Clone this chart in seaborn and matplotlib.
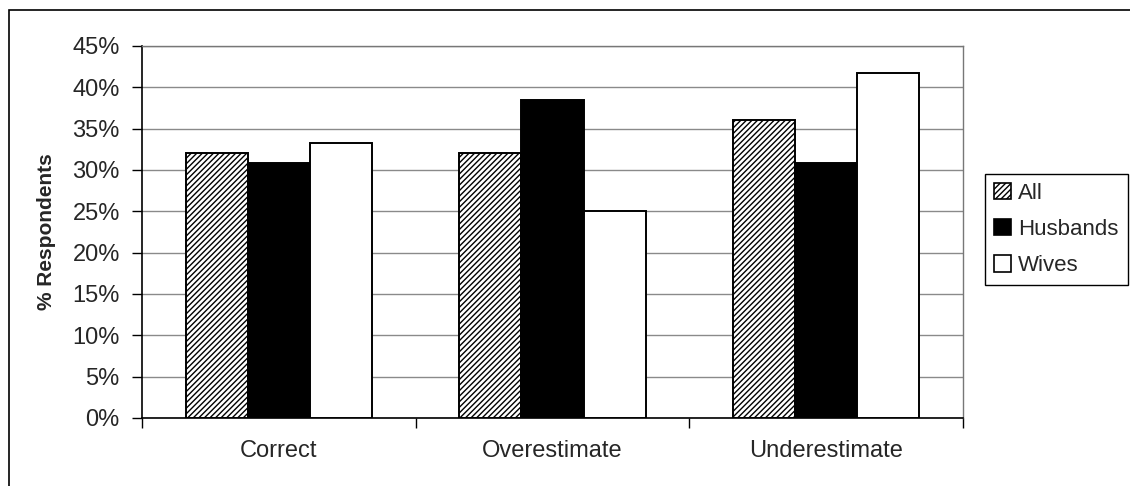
import matplotlib
matplotlib.use("Agg")
import matplotlib.pyplot as plt
import seaborn as sns
import pandas as pd
from matplotlib.patches import Patch, Rectangle
from matplotlib.ticker import FixedLocator, PercentFormatter

# ---- data ----
categories = ["Correct", "Overestimate", "Underestimate"]
groups = ["All", "Husbands", "Wives"]
all_vals = [32.0, 32.0, 36.0]
husbands_vals = [30.8, 38.5, 30.8]
wives_vals = [33.3, 25.0, 41.7]
y_ticks = [0, 5, 10, 15, 20, 25, 30, 35, 40, 45]

rows = []
for g, vals in zip(groups, [all_vals, husbands_vals, wives_vals]):
    for c, v in zip(categories, vals):
        rows.append({"Response": c, "Group": g, "Percent": v})
df = pd.DataFrame(rows)

sns.set_theme(style="white")
plt.rcParams["font.family"] = ["Liberation Sans", "DejaVu Sans"]
plt.rcParams["hatch.linewidth"] = 1.0
plt.rcParams["hatch.color"] = "black"

fig = plt.figure(figsize=(11.3, 4.86), dpi=100)
fig.patch.set_facecolor("white")
ax = fig.add_axes([142 / 1130, 1 - 418 / 486, (963 - 142) / 1130, (418 - 46) / 486])

sns.barplot(data=df, x="Response", y="Percent", hue="Group", order=categories,
            hue_order=groups, palette=["white", "black", "white"], width=0.68,
            edgecolor="black", linewidth=1.4, saturation=1, legend=False, ax=ax, zorder=3)

for p in ax.containers[0]:
    p.set_hatch("//////")
    p.set_facecolor("white")

ax.set_ylim(0, 45)
ax.set_xlim(-0.5, 2.5)
ax.yaxis.set_major_locator(FixedLocator(y_ticks))
ax.yaxis.set_major_formatter(PercentFormatter(decimals=0))
ax.grid(axis="y", color="#8a8a8a", linewidth=1.0, zorder=0)
ax.set_axisbelow(True)

ax.set_xlabel("")
ax.set_ylabel("% Respondents", fontsize=15, fontweight="bold", labelpad=12)

ax.tick_params(axis="y", which="major", direction="out", length=7, width=1,
               color="black", pad=9, labelsize=17, left=True)
ax.tick_params(axis="x", which="major", length=0, pad=16, labelsize=17)
ax.set_xticks([-0.5, 0.5, 1.5, 2.5], minor=True)
ax.tick_params(axis="x", which="minor", direction="out", length=7, width=1,
               color="black", bottom=True)

for side in ["left", "bottom"]:
    ax.spines[side].set_color("black")
    ax.spines[side].set_linewidth(1.2)
for side in ["top", "right"]:
    ax.spines[side].set_color("#777777")
    ax.spines[side].set_linewidth(1.0)

handles = [
    Patch(facecolor="white", edgecolor="black", hatch="//////", linewidth=1.2, label="All"),
    Patch(facecolor="black", edgecolor="black", linewidth=1.2, label="Husbands"),
    Patch(facecolor="white", edgecolor="black", linewidth=1.2, label="Wives"),
]
leg = fig.legend(handles=handles, loc="upper left",
                 bbox_to_anchor=(985 / 1130, 1 - 174 / 486),
                 fontsize=16, frameon=True, fancybox=False, framealpha=1,
                 edgecolor="black", handlelength=0.75, handleheight=0.75,
                 handletextpad=0.35, labelspacing=0.68, borderpad=0.4,
                 borderaxespad=0)
leg.get_frame().set_linewidth(1.0)

# outer chart frame
fig.patches.append(Rectangle((9 / 1130, -0.05), 1.2, 1 - 10 / 486 + 0.05,
                             transform=fig.transFigure, fill=False,
                             edgecolor="black", linewidth=1.2))

fig.savefig("out.png", dpi=100, facecolor="white")
